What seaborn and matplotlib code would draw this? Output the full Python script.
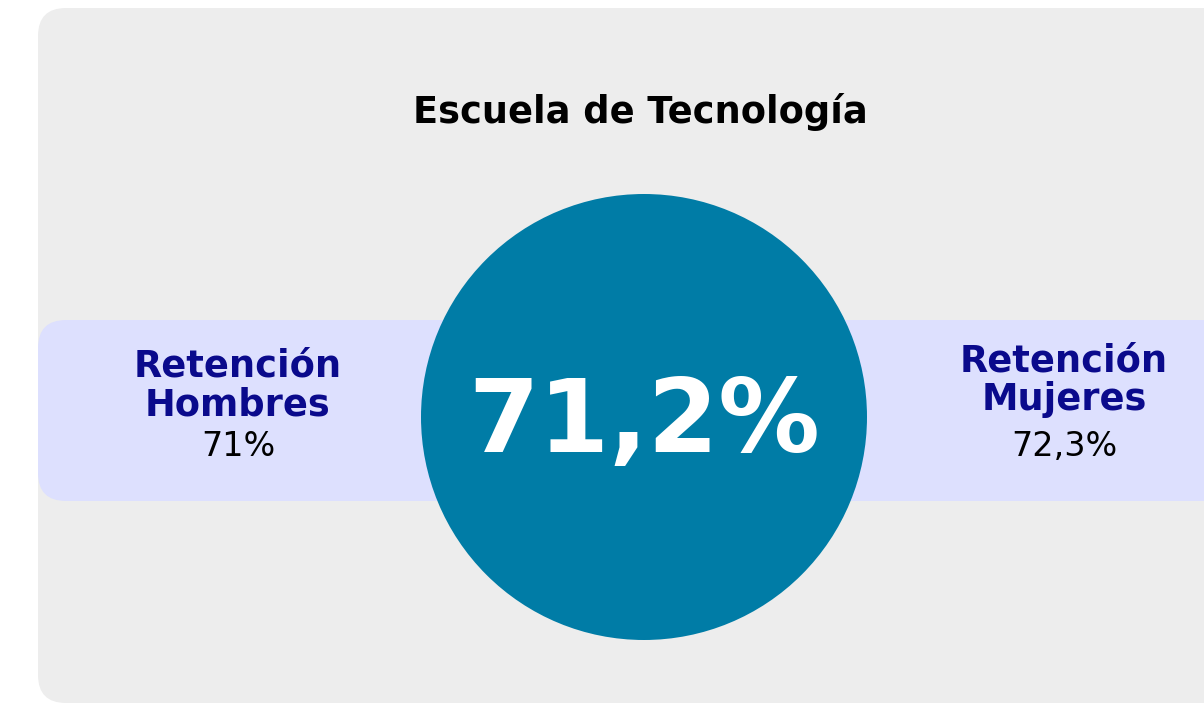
import matplotlib.pyplot as plt
import seaborn as sns
from matplotlib.patches import FancyBboxPatch, Circle

# datos
titulo = "Escuela de Tecnología"
retencion_total = 71.2
grupos = ["Hombres", "Mujeres"]
retencion_grupos = [71.0, 72.3]


def fmt(v):
    s = f"{v:.1f}".replace(".", ",")
    return s[:-2] if s.endswith(",0") else s


sns.set_theme(style="white")
plt.rcParams['font.family'] = ['DejaVu Sans']

fig = plt.figure(figsize=(12.04, 7.04), dpi=100)
ax = fig.add_axes([0, 0, 1, 1])
ax.set_xlim(0, 1204)
ax.set_ylim(704, 0)
ax.axis('off')

# fondo gris y banda lila
r = 28
ax.add_patch(FancyBboxPatch((38 + r, 8 + r), 1300, 703 - 8 - 2 * r, boxstyle=f"round,pad={r}",
                            fc="#ededed", ec="none", zorder=0))
ax.add_patch(FancyBboxPatch((38 + r, 320 + r), 1300, 181 - 2 * r, boxstyle=f"round,pad={r}",
                            fc="#dde0fe", ec="none", zorder=1))
ax.add_patch(Circle((644, 417), 223, fc="#007ca6", ec="none", zorder=2))

ax.text(640, 112, titulo, ha="center", va="center", fontsize=26.5,
        fontweight="bold", color="black", zorder=3)
ax.text(644, 424, fmt(retencion_total) + "%", ha="center", va="center",
        fontsize=73, fontweight="bold", color="white", zorder=3)

xs = [238, 1064]
ys = [366, 361]
for x, y, g, v in zip(xs, ys, grupos, retencion_grupos):
    ax.text(x, y, "Retención", ha="center", va="center", fontsize=26.5,
            fontweight="bold", color="#0a0a8c", zorder=3)
    ax.text(x, y + 39, g, ha="center", va="center", fontsize=26.5,
            fontweight="bold", color="#0a0a8c", zorder=3)
    ax.text(x, 447, fmt(v) + "%", ha="center", va="center", fontsize=24,
            color="black", zorder=3)

fig.savefig("out.png", dpi=100, facecolor="white")
